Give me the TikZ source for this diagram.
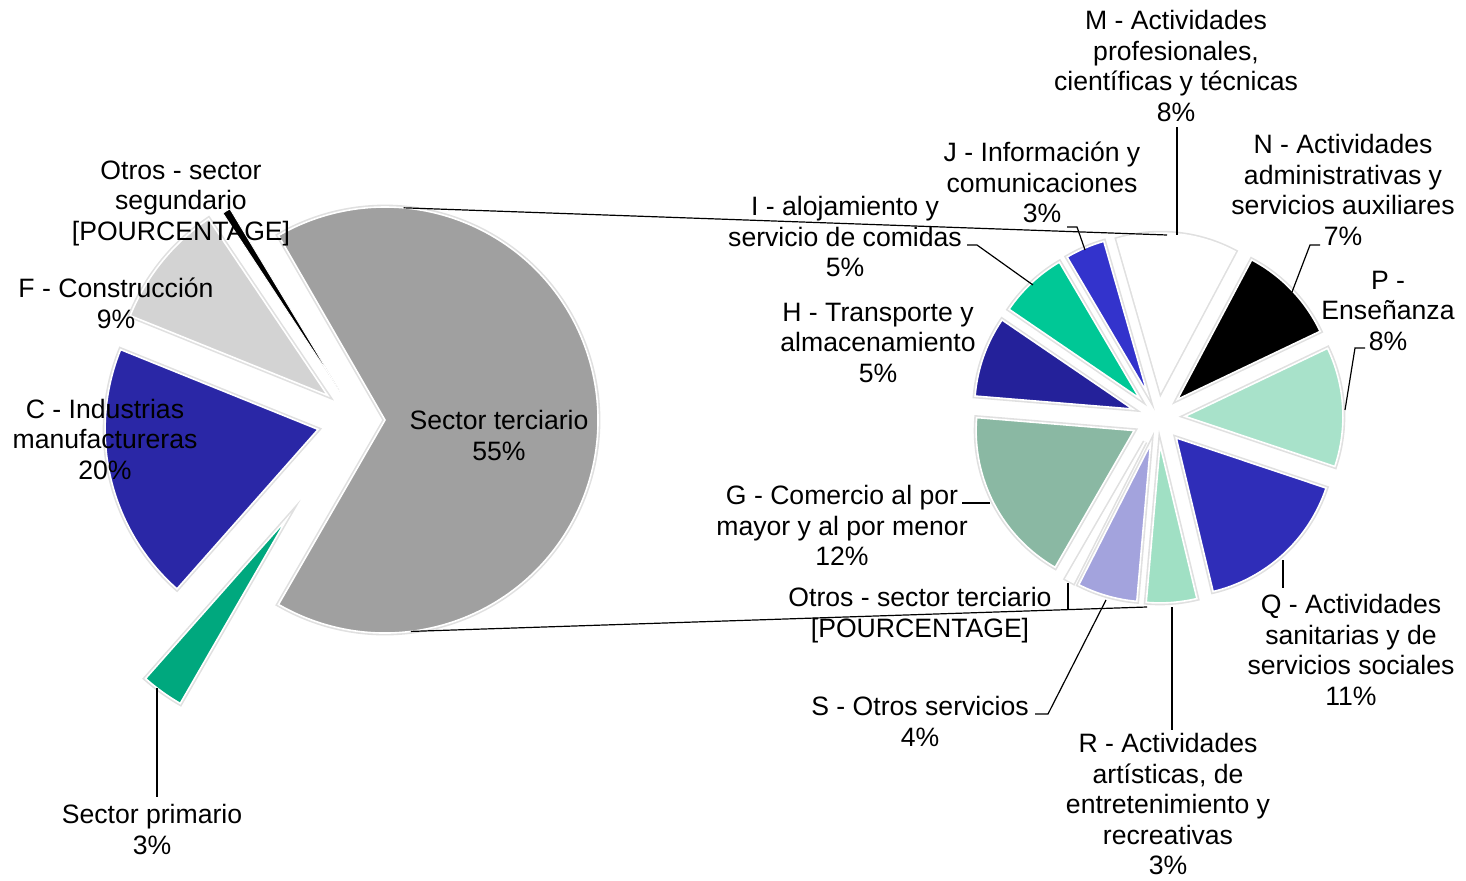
\documentclass[tikz,border=0pt]{standalone}
\usepackage{fontspec}
\setmainfont{Liberation Sans}
\definecolor{tgray}{HTML}{A0A0A0}
\definecolor{fgray}{HTML}{D3D3D3}
\definecolor{cnavy}{HTML}{2A27A6}
\definecolor{pgreen}{HTML}{00A87E}
\definecolor{qblue}{HTML}{2F2DB8}
\definecolor{pmint}{HTML}{A8E2CA}
\definecolor{rmint}{HTML}{A0E0C4}
\definecolor{slav}{HTML}{A3A3DD}
\definecolor{gsage}{HTML}{8AB8A3}
\definecolor{hnavy}{HTML}{24219A}
\definecolor{igreen}{HTML}{00C896}
\definecolor{jblue}{HTML}{3333CC}
\begin{document}
\begin{tikzpicture}[x=0.5pt,y=0.5pt,
    wedge/.style={draw=white,line width=0.8pt,preaction={draw=black!12,line width=2.4pt}},
    lbl/.style={align=center,inner sep=0pt,font=\fontsize{13.3}{15.25}\selectfont},
    leader/.style={line width=0.6pt}]
  \useasboundingbox (0,0) rectangle (1466,880);
  \coordinate (lc) at (358,460);
  \coordinate (rc) at (1158,462);
  % left pie
  \fill[tgray,wedge] (lc) ++(0:27) -- ++(-120:213) arc[start angle=-120,end angle=120,radius=213] -- cycle;
  \fill[fgray,wedge] (lc) ++(141:39) -- ++(124:213) arc[start angle=124,end angle=158,radius=213] -- cycle;
  \fill[cnavy,wedge] (lc) ++(193.25:41) -- ++(158:213) arc[start angle=158,end angle=228.5,radius=213] -- cycle;
  \fill[pgreen,wedge] (lc) ++(234.25:122) -- ++(228.5:213) arc[start angle=228.5,end angle=240,radius=213] -- cycle;
  \fill[black,draw=white,line width=0.4pt] (lc) ++(122.2:34) -- ++(121.1:213) arc[start angle=121.1,end angle=123.3,radius=213] -- cycle;
  % right pie
  \fill[qblue,wedge] (rc) ++(-47.5:27) -- ++(-76.5:158) arc[start angle=-76.5,end angle=-18.5,radius=158] -- cycle;
  \fill[pmint,wedge] (rc) ++(3.5:27) -- ++(-18.5:158) arc[start angle=-18.5,end angle=25.5,radius=158] -- cycle;
  \fill[black,wedge] (rc) ++(43.75:27) -- ++(25.5:158) arc[start angle=25.5,end angle=62,radius=158] -- cycle;
  \fill[white,wedge] (rc) ++(84:27) -- ++(62:158) arc[start angle=62,end angle=106,radius=158] -- cycle;
  \fill[jblue,wedge] (rc) ++(113.25:27) -- ++(106:158) arc[start angle=106,end angle=120.5,radius=158] -- cycle;
  \fill[igreen,wedge] (rc) ++(133.1:27) -- ++(120.5:158) arc[start angle=120.5,end angle=145.7,radius=158] -- cycle;
  \fill[hnavy,wedge] (rc) ++(160.5:27) -- ++(145.7:158) arc[start angle=145.7,end angle=175.3,radius=158] -- cycle;
  \fill[gsage,wedge] (rc) ++(207.65:27) -- ++(175.3:158) arc[start angle=175.3,end angle=240,radius=158] -- cycle;
  \fill[white,wedge] (rc) ++(241.5:27) -- ++(240:158) arc[start angle=240,end angle=243,radius=158] -- cycle;
  \fill[slav,wedge] (rc) ++(254:27) -- ++(243:158) arc[start angle=243,end angle=265,radius=158] -- cycle;
  \fill[rmint,wedge] (rc) ++(274.25:27) -- ++(265:158) arc[start angle=265,end angle=283.5,radius=158] -- cycle;
  % connectors
  \path (lc) ++(0:27) ++(85:213) coordinate (tt);
  \path (lc) ++(0:27) ++(-83:213) coordinate (tb);
  \coordinate (mt) at (1167,645);
  \coordinate (mb) at (1147,273);
  \draw[leader] (tt) -- (mt);
  \draw[leader] (tb) -- (mb);
  % leaders
  \coordinate (pp) at (157,192); \coordinate (pq) at (157,83);
  \coordinate (mp) at (1177,645); \coordinate (mq) at (1177,753);
  \coordinate (jp) at (1085,630); \coordinate (jk) at (1077,653); \coordinate (jq) at (1067,653);
  \coordinate (ip) at (1033,595); \coordinate (ik) at (977,635); \coordinate (iq) at (967,635);
  \coordinate (np) at (1292,588); \coordinate (nk) at (1310,635); \coordinate (nq) at (1320,635);
  \coordinate (ppn) at (1345,470); \coordinate (pk) at (1355,532); \coordinate (pqn) at (1365,532);
  \coordinate (gp) at (990,377); \coordinate (gq) at (962,377);
  \coordinate (op) at (1068,297); \coordinate (oq) at (1068,270);
  \coordinate (sp) at (1106,280); \coordinate (sk) at (1048,166); \coordinate (sq) at (1035,166);
  \coordinate (rp) at (1172,273); \coordinate (rq) at (1172,150);
  \coordinate (qp) at (1283,320); \coordinate (qq) at (1283,292);
  \draw[leader] (pp) -- (pq);
  \draw[leader] (mp) -- (mq);
  \draw[leader] (jp) -- (jk) -- (jq);
  \draw[leader] (ip) -- (ik) -- (iq);
  \draw[leader] (np) -- (nk) -- (nq);
  \draw[leader] (ppn) -- (pk) -- (pqn);
  \draw[leader] (gp) -- (gq);
  \draw[leader] (op) -- (oq);
  \draw[leader] (sp) -- (sk) -- (sq);
  \draw[leader] (rp) -- (rq);
  \draw[leader] (qp) -- (qq);
  % labels
  \node[lbl] (osec) at (181,677) {Otros - sector\\segundario\\{[POURCENTAGE]}};
  \node[lbl] (fcon) at (116,576.5) {F - Construcción\\9\%};
  \node[lbl] (cind) at (105,441) {C - Industrias\\manufactureras\\20\%};
  \node[lbl] (ster) at (499,444.5) {Sector terciario\\55\%};
  \node[lbl] (sprim) at (152,50.5) {Sector primario\\3\%};
  \node[lbl] (mact) at (1176,814) {M - Actividades\\profesionales,\\científicas y técnicas\\8\%};
  \node[lbl] (jinf) at (1042,697.5) {J - Información y\\comunicaciones\\3\%};
  \node[lbl] (nadm) at (1343,690) {N - Actividades\\administrativas y\\servicios auxiliares\\7\%};
  \node[lbl] (pens) at (1388,569.5) {P -\\Enseñanza\\8\%};
  \node[lbl] (ialo) at (845,643.5) {I - alojamiento y\\servicio de comidas\\5\%};
  \node[lbl] (htra) at (878,537.5) {H - Transporte y\\almacenamiento\\5\%};
  \node[lbl] (gcom) at (842,354.5) {G - Comercio al por\\mayor y al por menor\\12\%};
  \node[lbl] (oter) at (920,265) {Otros - sector terciario\\{[POURCENTAGE]}};
  \node[lbl] (sotr) at (920,158.5) {S - Otros servicios\\4\%};
  \node[lbl] (ract) at (1168,76) {R - Actividades\\artísticas, de\\entretenimiento y\\recreativas\\3\%};
  \node[lbl] (qact) at (1351,230) {Q - Actividades\\sanitarias y de\\servicios sociales\\11\%};
\end{tikzpicture}
\end{document}
